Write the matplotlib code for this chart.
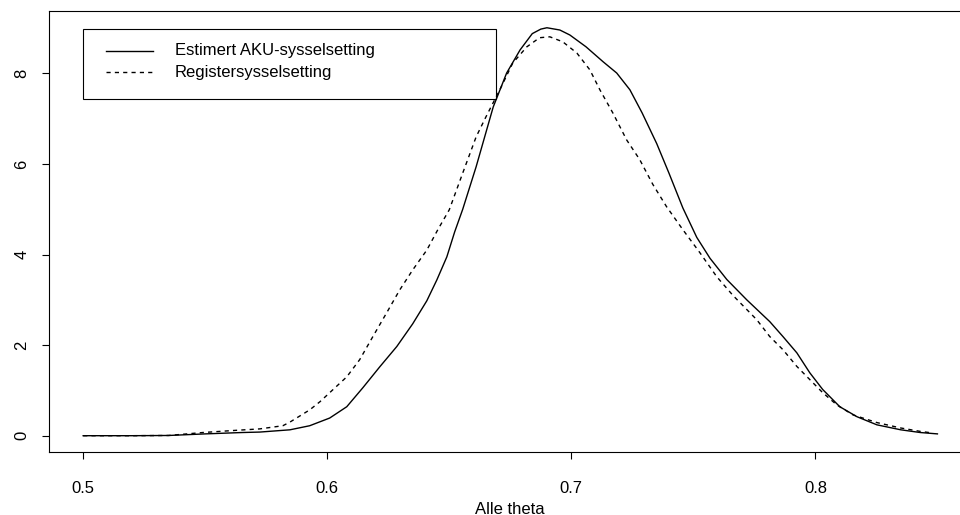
import numpy as np
import matplotlib
matplotlib.use("Agg")
import matplotlib.pyplot as plt
from matplotlib.patches import Rectangle
from matplotlib.lines import Line2D

plt.rcParams['font.family'] = ['Liberation Sans', 'DejaVu Sans']

# Estimert AKU-sysselsetting (heltrukken)
aku_x = [0.500, 0.520, 0.535, 0.550, 0.565, 0.5723, 0.5847, 0.5928, 0.601, 0.608,
         0.6146, 0.6215, 0.6285, 0.635, 0.6408, 0.6449, 0.649, 0.6522, 0.6555, 0.661,
         0.668, 0.6735, 0.679, 0.684, 0.6875, 0.690, 0.6953, 0.6994, 0.706, 0.713, 0.7186,
         0.724, 0.729, 0.735, 0.740, 0.7457, 0.7514, 0.7568, 0.7637, 0.7719, 0.7813,
         0.7867, 0.7924, 0.7977, 0.803, 0.810, 0.817, 0.8252, 0.835, 0.843, 0.850]
aku_y = [0.0, 0.0, 0.005, 0.04, 0.07, 0.08, 0.13, 0.22, 0.39, 0.64,
         1.06, 1.52, 1.97, 2.47, 2.98, 3.44, 3.95, 4.5, 5.0, 5.94,
         7.26, 8.01, 8.52, 8.88, 8.98, 9.01, 8.96, 8.85, 8.59, 8.26, 8.01,
         7.64, 7.13, 6.45, 5.8, 5.03, 4.38, 3.92, 3.45, 3.0, 2.52,
         2.19, 1.83, 1.39, 1.02, 0.64, 0.42, 0.24, 0.13, 0.07, 0.04]

# Registersysselsetting (stiplet)
reg_x = [0.500, 0.520, 0.535, 0.549, 0.563, 0.5723, 0.5818, 0.5847, 0.5928, 0.597,
         0.601, 0.608, 0.6133, 0.6187, 0.6244, 0.6297, 0.635, 0.6408, 0.6453, 0.650,
         0.6555, 0.661, 0.665, 0.6707, 0.676, 0.6818, 0.687, 0.6912, 0.6965, 0.7023,
         0.7076, 0.7117, 0.717, 0.7227, 0.728, 0.7334, 0.739, 0.7457, 0.7527, 0.7596,
         0.7662, 0.776, 0.7813, 0.7867, 0.7924, 0.7977, 0.803, 0.8088, 0.8154, 0.8252,
         0.835, 0.843, 0.848]
reg_y = [0.0, 0.0, 0.005, 0.07, 0.12, 0.15, 0.22, 0.3, 0.57, 0.75,
         0.95, 1.3, 1.68, 2.19, 2.72, 3.22, 3.66, 4.1, 4.55, 4.99,
         5.8, 6.6, 7.04, 7.64, 8.23, 8.59, 8.79, 8.81, 8.7, 8.45,
         8.08, 7.64, 7.13, 6.53, 6.1, 5.55, 5.06, 4.55, 4.04, 3.51,
         3.1, 2.56, 2.19, 1.9, 1.53, 1.24, 0.95, 0.68, 0.46, 0.29,
         0.17, 0.095, 0.06]

labels = ["Estimert AKU-sysselsetting", "Registersysselsetting"]
xticks = [0.5, 0.6, 0.7, 0.8]
yticks = [0, 2, 4, 6, 8]

W, H = 960, 515
fig = plt.figure(figsize=(W / 100, H / 100), dpi=100)
ax = fig.add_axes([49 / W, 63 / H, (971.6 - 49) / W, (452 - 11) / H])

solid = dict(color='black', lw=1.0, ls='-', solid_joinstyle='round')
dashed = dict(color='black', lw=1.0, ls=(0, (3, 3)))
ax.plot(aku_x, aku_y, **solid)
ax.plot(reg_x, reg_y, **dashed)

ax.set_xlim(0.486, 0.864)
ax.set_ylim(-0.36, 9.38)
ax.set_xticks(xticks)
ax.set_xticklabels([str(t) for t in xticks])
ax.set_yticks(yticks)
ax.set_yticklabels([str(t) for t in yticks], rotation=90, va='center')
ax.tick_params(axis='both', length=5, width=0.8, labelsize=12, direction='out')
ax.tick_params(axis='x', pad=16)
ax.tick_params(axis='y', pad=9)
for s in ax.spines.values():
    s.set_linewidth(0.8)
ax.set_xlabel("Alle theta", fontsize=12, labelpad=4)

# legend box like R's legend()
fig.add_artist(Rectangle((83 / W, 1 - 99 / H), 413 / W, 70 / H, transform=fig.transFigure,
                         fill=False, ec='black', lw=0.8))
for i, (lab, st) in enumerate(zip(labels, [solid, dashed])):
    yy = 1 - (51 + 21 * i) / H
    fig.add_artist(Line2D([106 / W, 153 / W], [yy, yy], transform=fig.transFigure, **st))
    fig.text(175 / W, yy, lab, fontsize=12, va='center', ha='left')

fig.savefig("out.png", dpi=100)
